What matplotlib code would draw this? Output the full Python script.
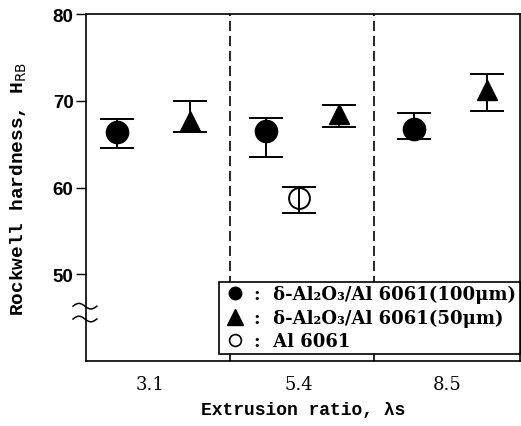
import numpy as np
import matplotlib
matplotlib.use("Agg")
import matplotlib.pyplot as plt
from matplotlib.lines import Line2D

# ---------- data ----------
ratios = ["3.1", "5.4", "8.5"]
# filled circle: delta-Al2O3/Al6061 (100 um)
c100_val = [66.4, 66.5, 66.7]
c100_lo = [64.6, 63.5, 65.6]
c100_hi = [67.9, 68.0, 68.6]
# filled triangle: delta-Al2O3/Al6061 (50 um)
t50_val = [67.7, 68.5, 71.2]
t50_lo = [66.4, 67.0, 68.8]
t50_hi = [70.0, 69.5, 73.1]
# open circle: Al6061 (only at 5.4)
al_val = [58.8]
al_lo = [57.1]
al_hi = [60.05]

SERIF = ["DejaVu Serif"]
MONO = ["Liberation Mono", "DejaVu Sans Mono"]
x = np.arange(len(ratios))

fig = plt.figure(figsize=(5.21, 4.27), dpi=100)
ax = fig.add_axes([86 / 521, 65 / 427, 434 / 521, 347 / 427])

def errs(v, lo, hi):
    v = np.array(v); return [v - np.array(lo), np.array(hi) - v]

kw = dict(ecolor="black", elinewidth=1.4, capsize=12.5, capthick=1.4, linestyle="none")
ax.errorbar(x - 0.22, c100_val, yerr=errs(c100_val, c100_lo, c100_hi), fmt="o",
            mfc="black", mec="black", ms=16, zorder=3, **kw)
ax.errorbar(x + 0.27, t50_val, yerr=errs(t50_val, t50_lo, t50_hi), fmt="^",
            mfc="black", mec="black", ms=14, zorder=3, **kw)
ax.errorbar([x[1]], al_val, yerr=errs(al_val, al_lo, al_hi), fmt="o",
            mfc="none", mec="black", mew=1.4, ms=15, zorder=3, **kw)

# dashed separators between extrusion-ratio groups
for xv in (0.54, 1.51):
    ax.axvline(xv, color="black", lw=1.2, ls=(0, (6, 3)), zorder=1)

ax.set_xlim(-0.43, 2.49)
ax.set_ylim(40, 80)
ax.set_xticks(x)
ax.set_xticklabels(ratios)
ax.set_yticks([50, 60, 70, 80])
ax.tick_params(axis="x", length=0, pad=10)
ax.tick_params(axis="y", length=7, width=1, direction="out", pad=2)
for lab in ax.get_yticklabels():
    lab.set_fontfamily("Liberation Sans"); lab.set_fontweight("bold"); lab.set_fontsize(13.5)
for lab in ax.get_xticklabels():
    lab.set_fontfamily(SERIF); lab.set_fontsize(13)
for s in ax.spines.values():
    s.set_linewidth(1.2)

ax.set_ylabel("Rockwell hardness, H$_{\\mathrm{RB}}$", family=MONO, fontsize=14,
              fontweight="bold", labelpad=17)
ax.set_xlabel("Extrusion ratio, λs", family=MONO, fontsize=13, fontweight="bold", labelpad=6)

# axis break on the left spine
t = np.linspace(-0.03, 0.025, 40)
for yb in (0.158, 0.121):
    wave = yb + 0.008 * np.sin((t + 0.03) / 0.055 * 2 * np.pi)
    ax.plot(t, wave, color="black", lw=1.1, transform=ax.transAxes, clip_on=False, zorder=5)

handles = [Line2D([], [], marker="o", color="black", ls="none", ms=9),
           Line2D([], [], marker="^", color="black", ls="none", ms=12),
           Line2D([], [], marker="o", mfc="none", mec="black", ls="none", ms=8.5, mew=1.2)]
labels = [":  δ-Al₂O₃/Al 6061(100μm)",
          ":  δ-Al₂O₃/Al 6061(50μm)",
          ":  Al 6061"]
leg = ax.legend(handles, labels, loc="lower right", bbox_to_anchor=(1.0, 0.02),
                prop={"family": SERIF, "size": 13, "weight": "bold"},
                frameon=True, fancybox=False, edgecolor="black", framealpha=1,
                handlelength=1.3, handletextpad=0.45, borderpad=0.2, labelspacing=0.3,
                borderaxespad=0.0)
leg.get_frame().set_linewidth(1.2)
leg.set_zorder(6)

fig.savefig("out.png", dpi=100)
